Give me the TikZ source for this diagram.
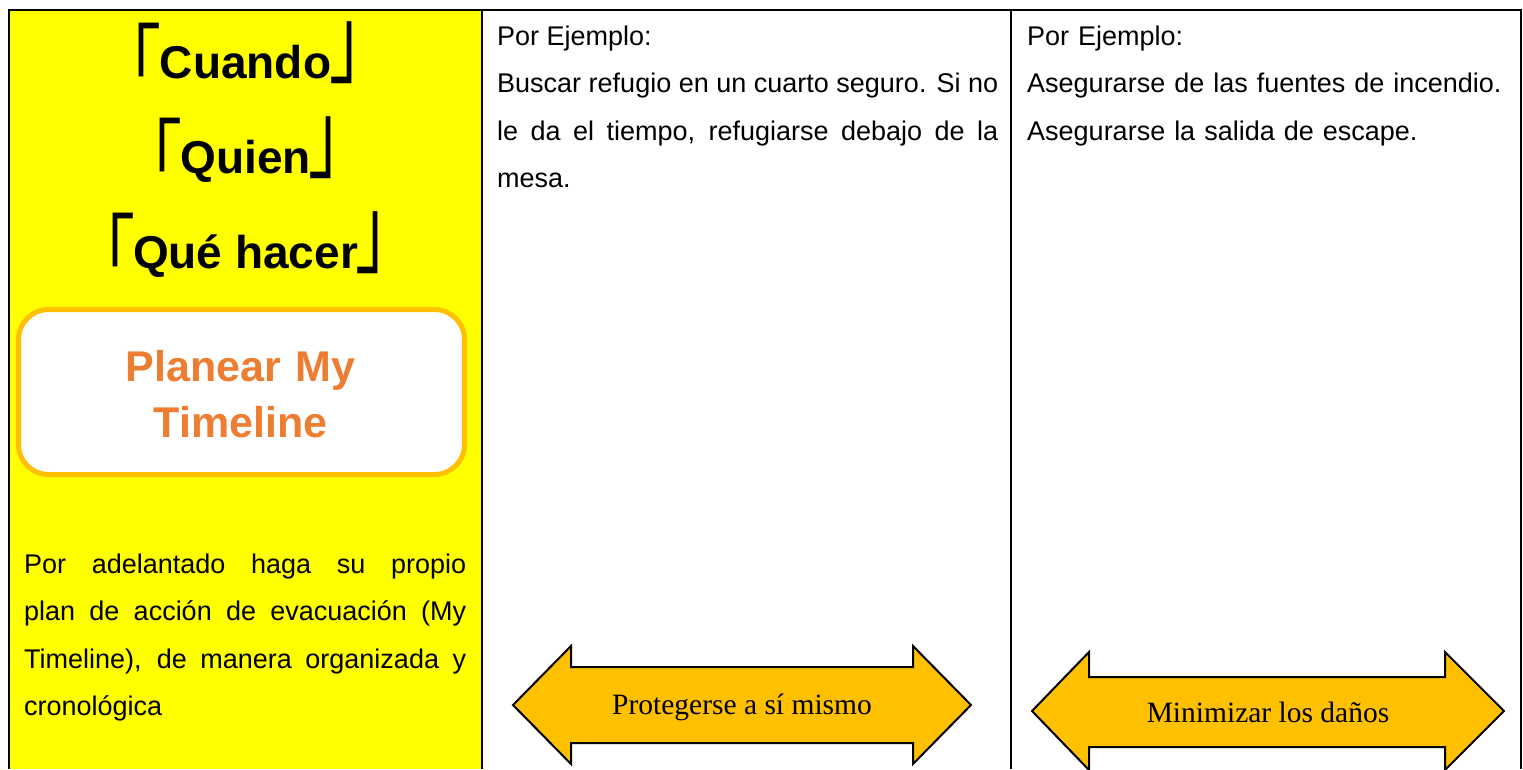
\documentclass[tikz,border=0pt]{standalone}
\usepackage{fontspec}
\usepackage{graphicx}
\setmainfont{Liberation Sans}
\newfontfamily\cjk{Noto Sans CJK JP}
\newfontfamily\mincho{Liberation Serif}
\definecolor{amarillo}{HTML}{FFFF00}
\definecolor{naranja}{HTML}{FFC000}
\definecolor{naranjaTexto}{HTML}{ED7D31}
\newcommand{\kagi}[1]{{\cjk\mdseries\fontsize{64}{64}\selectfont\smash{\raisebox{-15pt}{\scalebox{1}[1.3]{「}}}}\kern-2pt#1\kern-2pt{\cjk\mdseries\fontsize{64}{64}\selectfont\smash{\raisebox{3pt}{\scalebox{1}[1.5]{」}}}}}
\begin{document}
\begin{tikzpicture}[x=1pt,y=-1pt,line join=miter,
    rejilla/.style={line width=2pt},
    cuerpo/.style={anchor=base west,inner sep=0pt,font=\fontsize{27}{47.5}\selectfont},
    titulo/.style={anchor=base,inner sep=0pt,font=\fontsize{46}{46}\selectfont\bfseries},
    flecha/.style={draw,line width=2pt,fill=naranja},
    rotulo/.style={anchor=base,inner sep=0pt,font=\mincho\fontsize{29.5}{29.5}\selectfont}]
                \useasboundingbox (0,0) rectangle (1523,769);
                \coordinate (supIzq) at (9,10);
                \coordinate (supDer) at (1521,10);
                \coordinate (infIzq) at (9,769);
                \coordinate (infDer) at (1521,769);
                \fill[amarillo] (supIzq) rectangle (482,769);
                \draw[rejilla] (infIzq)--(supIzq)--(supDer)--(infDer);
                \draw[rejilla] (482,10)--(482,769);
                \draw[rejilla] (1011,10)--(1011,769);
                \node[titulo] (cuando) at (245.5,78) {\kagi{Cuando}};
                \node[titulo] (quien) at (245.5,173) {\kagi{Quien}};
                \node[titulo] (queHacer) at (245.5,268) {\kagi{Qué hacer}};
                \draw[naranja,line width=5pt,fill=white,rounded corners=30pt] (18.5,309.5) rectangle (464.5,474.5);
                \node[anchor=base,inner sep=0pt,text width=440pt,align=center,text=naranjaTexto,
                    font=\fontsize{43}{56}\selectfont\bfseries] (planear) at (240.5,381) {Planear My\\Timeline};
                \node[cuerpo,text width=442pt,align=justify] (plan) at (24,573)
                    {Por adelantado haga su propio\linebreak plan de acción de evacuación (My\linebreak Timeline), de manera organizada y\linebreak cronológica};
                \node[cuerpo,text width=501pt,align=justify] (ejemploA) at (497,45)
                    {Por Ejemplo:\par Buscar refugio en un cuarto seguro. Si no\linebreak le da el tiempo, refugiarse debajo de la\linebreak mesa.};
                \node[cuerpo,text width=480pt,align=left] (ejemploB) at (1027,45)
                    {Por Ejemplo:\\Asegurarse de las fuentes de incendio.\\Asegurarse la salida de escape.};
                \draw[flecha] (513,705)--(571,646)--(571,667)--(913,667)--(913,646)--(971,705)
                    --(913,764)--(913,743)--(571,743)--(571,764)--cycle;
                \node[rotulo] (protegerse) at (742,714) {Protegerse a sí mismo};
                \draw[flecha] (1032,711)--(1089,652)--(1089,677)--(1445,677)--(1445,652)--(1504,711)
                    --(1445,770)--(1445,747)--(1089,747)--(1089,770)--cycle;
                \node[rotulo] (minimizar) at (1268,722) {Minimizar los daños};
            \end{tikzpicture}
\end{document}
